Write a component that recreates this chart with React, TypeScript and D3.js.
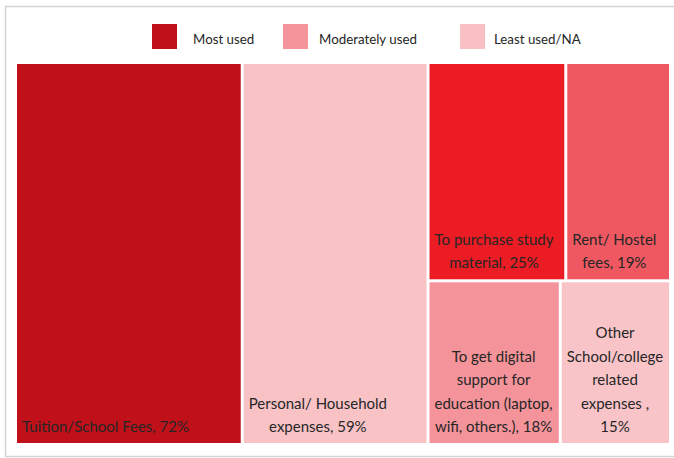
import React, { useEffect, useRef } from "react";
import * as d3 from "d3";

const categories = [
  "Tuition/School Fees",
  "Personal/ Household expenses",
  "To purchase study material",
  "Rent/ Hostel fees",
  "To get digital support for education (laptop, wifi, others.)",
  "Other School/college related expenses",
];
const labelLines = [
  ["Tuition/School Fees, 72%"],
  ["Personal/ Household", "expenses, 59%"],
  ["To purchase study", "material, 25%"],
  ["Rent/ Hostel", "fees, 19%"],
  ["To get digital", "support for", "education (laptop,", "wifi, others.), 18%"],
  ["Other", "School/college", "related", "expenses ,", "15%"],
];
const values = [72, 59, 25, 19, 18, 15];
// layout grouping: top-level column, then row within right-hand group
const groups = ["a", "b", "c", "c", "c", "c"];
const rows = ["a", "b", "top", "top", "bottom", "bottom"];
const cellColors = ["#C0111A", "#F9C3C6", "#EC1C24", "#F05861", "#F4949A", "#F9C4C8"];

const legendLabels = ["Most used", "Moderately used", "Least used/NA"];
const legendColors = ["#C0111A", "#F4949A", "#F9C0C4"];

const W = 674;
const H = 458;
const FONT = "Lato, 'Liberation Sans', sans-serif";

export default function App() {
  const ref = useRef<SVGSVGElement>(null);

  useEffect(() => {
    const svg = d3.select(ref.current);
    svg.selectAll("*").remove();

    // frame
    svg
      .append("rect")
      .attr("x", 5.5)
      .attr("y", 6.5)
      .attr("width", 700)
      .attr("height", 450)
      .attr("fill", "#fff")
      .attr("stroke", "#d4d4d4")
      .attr("stroke-width", 1.5);

    // legend
    const legendX = [152, 283, 460];
    const legendTextX = [193, 319, 494];
    const lg = svg.append("g");
    legendLabels.forEach((l, i) => {
      lg.append("rect")
        .attr("x", legendX[i])
        .attr("y", 24)
        .attr("width", 25)
        .attr("height", 25)
        .attr("fill", legendColors[i]);
      lg.append("text")
        .attr("x", legendTextX[i])
        .attr("y", 44)
        .attr("font-family", FONT)
        .attr("font-size", 13.3)
        .attr("fill", "#262626")
        .text(l);
    });

    // hierarchy
    const leaves = values.map((v, i) => ({
      name: categories[i],
      value: v,
      group: groups[i],
      row: rows[i],
      idx: i,
    }));
    const byGroup = d3.groups(leaves, (d) => d.group).map(([g, items]) => {
      const byRow = d3.groups(items, (d) => d.row);
      if (byRow.length === 1) return { name: g, children: items };
      return {
        name: g,
        children: byRow.map(([r, its]) => ({ name: r, children: its })),
      };
    });
    const root = d3
      .hierarchy<any>({ name: "root", children: byGroup })
      .sum((d: any) => (d.children ? 0 : d.value));
    d3.treemap<any>()
      .tile(d3.treemapSliceDice)
      .size([669 - 17, 443 - 64])
      .paddingInner(3)(root);

    const g = svg.append("g").attr("transform", "translate(17,64)");
    const leafNodes = root.leaves();
    const cells = g
      .selectAll("g.cell")
      .data(leafNodes)
      .join("g")
      .attr("class", "cell");
    cells
      .append("rect")
      .attr("x", (d: any) => d.x0)
      .attr("y", (d: any) => d.y0)
      .attr("width", (d: any) => d.x1 - d.x0)
      .attr("height", (d: any) => d.y1 - d.y0)
      .attr("fill", (d: any) => cellColors[d.data.idx]);

    const lineH = 23.5;
    const fs = 15;
    cells.each(function (d: any) {
      const lines = labelLines[d.data.idx];
      const sel = d3.select(this);
      const measure = sel
        .append("text")
        .attr("font-family", FONT)
        .attr("font-size", fs);
      let maxW = 0;
      lines.forEach((l) => {
        measure.text(l);
        const w = (measure.node() as SVGTextElement).getComputedTextLength();
        if (w > maxW) maxW = w;
      });
      measure.remove();
      const cx = d.x0 + 5 + maxW / 2;
      const lastBase = d.y1 - 11;
      lines.forEach((l, j) => {
        sel
          .append("text")
          .attr("x", cx)
          .attr("y", lastBase - (lines.length - 1 - j) * lineH)
          .attr("text-anchor", "middle")
          .attr("font-family", FONT)
          .attr("font-size", fs)
          .attr("fill", "#262626")
          .text(l);
      });
    });
  }, []);

  return (
    <svg
      ref={ref}
      width={W}
      height={H}
      style={{ position: "absolute", left: 0, top: 0, background: "#fff" }}
    />
  );
}
